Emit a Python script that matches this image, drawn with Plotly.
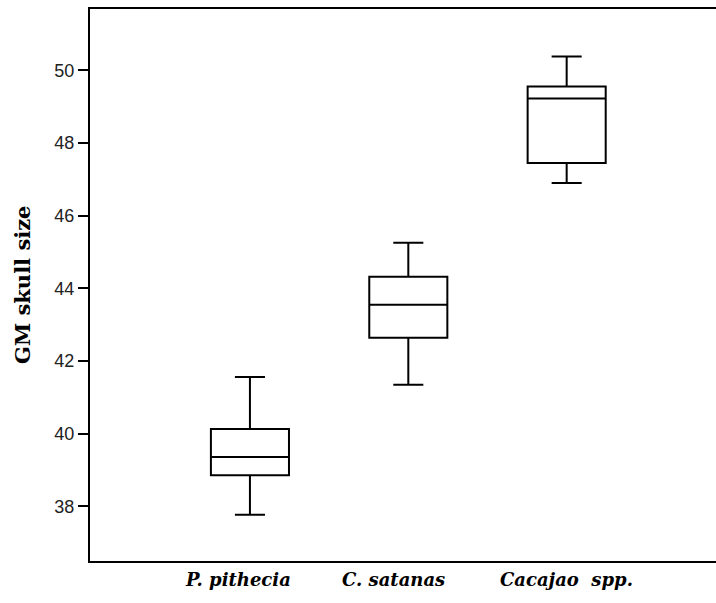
import plotly.graph_objects as go

categories = ["P. pithecia", "C. satanas", "Cacajao  spp."]
positions = [0, 1, 2]
lower_whisker = [37.77, 41.35, 46.90]
q1 = [38.86, 42.64, 47.45]
median = [39.36, 43.55, 49.23]
q3 = [40.13, 44.32, 49.56]
upper_whisker = [41.56, 45.26, 50.38]
y_ticks = [38, 40, 42, 44, 46, 48, 50]
label_shift = [-12, -15, 0]

fig = go.Figure()
fig.add_trace(go.Box(
    x=positions,
    lowerfence=lower_whisker,
    q1=q1,
    median=median,
    q3=q3,
    upperfence=upper_whisker,
    width=0.493,
    whiskerwidth=0.385,
    fillcolor="white",
    line=dict(color="black", width=2),
    boxpoints=False,
    showlegend=False,
    hoverinfo="skip",
))

for p, c, s in zip(positions, categories, label_shift):
    fig.add_annotation(
        x=p, xref="x", y=0, yref="paper", yshift=-18, xshift=s,
        text=f"<b><i>{c}</i></b>", showarrow=False, yanchor="middle",
        font=dict(family="DejaVu Serif", size=18, color="black"),
    )

fig.add_annotation(
    x=0, xref="paper", xshift=-68, y=0.5, yref="paper",
    text="<b>GM skull size</b>", textangle=-90, showarrow=False,
    xanchor="center", yanchor="middle",
    font=dict(family="DejaVu Serif", size=21, color="black"),
)

fig.update_layout(
    width=730, height=603,
    margin=dict(l=90, r=14, t=9, b=42, autoexpand=False),
    plot_bgcolor="white",
    paper_bgcolor="white",
    xaxis=dict(
        range=[-1.01, 2.943],
        showticklabels=False,
        showline=True, linecolor="black", linewidth=2, mirror=True,
        ticks="", showgrid=False, zeroline=False, automargin=False,
    ),
    yaxis=dict(
        range=[36.5, 51.69],
        tickvals=y_ticks,
        tickfont=dict(family="Liberation Sans", size=18, color="#222"),
        showline=True, linecolor="black", linewidth=2, mirror=False,
        ticks="outside", ticklen=10, tickwidth=2, tickcolor="black",
        showgrid=False, zeroline=False, automargin=False,
    ),
)

fig.write_html(
    "out.html",
    config={"displayModeBar": False},
    post_script="document.body.style.margin='0';document.body.style.overflow='hidden';",
)
